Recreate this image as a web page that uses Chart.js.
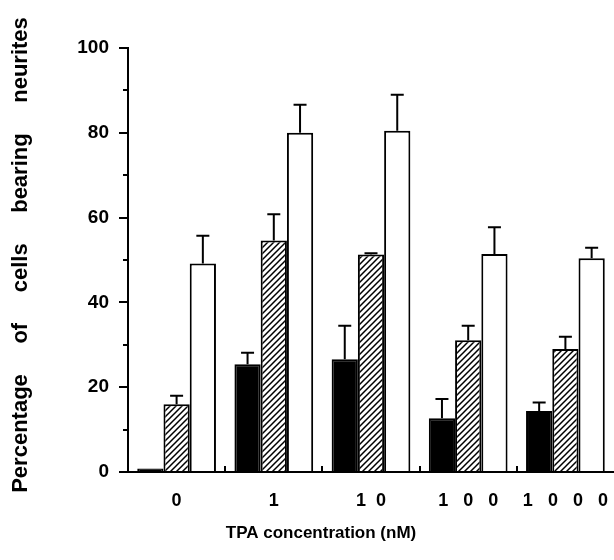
<!DOCTYPE html>
<html>
<head>
<meta charset="utf-8">
<script src="https://cdn.jsdelivr.net/npm/chart.js@4.4.0/dist/chart.umd.min.js"></script>
<style>
  html, body { margin: 0; padding: 0; background: #fff; }
  #wrap { width: 614px; height: 560px; }
</style>
</head>
<body>
<div id="wrap"><canvas id="barChart" width="614" height="560"></canvas></div>
<script>
const categories = ['0', '1', '1  0', '1   0   0', '1   0   0   0'];
const blackValues = [0.8, 25.4, 26.6, 12.7, 14.4];
const blackErrors = [0, 2.7, 7.9, 4.5, 2.0];
const hatchedValues = [16.0, 54.6, 51.3, 31.1, 29.0];
const hatchedErrors = [2.0, 6.2, 0.3, 3.4, 2.9];
const whiteValues = [49.2, 80.0, 80.5, 51.4, 50.4];
const whiteErrors = [6.5, 6.6, 8.5, 6.3, 2.5];
const yMin = 0, yMax = 100, yStep = 20;
const yMinorTicks = [10, 30, 50, 70, 90];
const xTitle = 'TPA concentration (nM)';
const yTitle = 'Percentage     of     cells     bearing     neurites';

const FONT = '"Liberation Sans", Arial, Helvetica, sans-serif';

function makeHatch() {
    const c = document.createElement('canvas');
    c.width = 6; c.height = 6;
    const g = c.getContext('2d');
    g.fillStyle = '#fff';
    g.fillRect(0, 0, 6, 6);
    g.strokeStyle = '#000';
    g.lineWidth = 1.5;
    g.beginPath();
    g.moveTo(0, 6); g.lineTo(6, 0);
    g.moveTo(-1, 1); g.lineTo(1, -1);
    g.moveTo(5, 7); g.lineTo(7, 5);
    g.stroke();
    return g.createPattern(c, 'repeat');
}

// upward-only error bars with a small cap
const errorBars = {
    id: 'errorBars',
    afterDatasetsDraw(chart) {
        const ctx = chart.ctx;
        const y = chart.scales.y;
        ctx.save();
        ctx.strokeStyle = '#000';
        ctx.lineWidth = 2;
        chart.data.datasets.forEach((ds, i) => {
            chart.getDatasetMeta(i).data.forEach((bar, j) => {
                const err = ds.errors[j];
                if (!err) return;
                const top = y.getPixelForValue(ds.data[j] + err);
                ctx.beginPath();
                ctx.moveTo(bar.x, bar.y);
                ctx.lineTo(bar.x, top);
                ctx.moveTo(bar.x - 6.5, top);
                ctx.lineTo(bar.x + 6.5, top);
                ctx.stroke();
            });
        });
        ctx.restore();
    }
};

// short tick marks: minor ones on y, inward ones between groups on x
const extraTicks = {
    id: 'extraTicks',
    afterDraw(chart) {
        const ctx = chart.ctx;
        const x = chart.scales.x, y = chart.scales.y;
        const area = chart.chartArea;
        ctx.save();
        ctx.strokeStyle = '#000';
        ctx.lineWidth = 2;
        ctx.beginPath();
        yMinorTicks.forEach(v => {
            const py = Math.round(y.getPixelForValue(v));
            ctx.moveTo(area.left - 5, py);
            ctx.lineTo(area.left, py);
        });
        for (let i = 1; i < categories.length; i++) {
            const px = Math.round((x.getPixelForValue(i - 1) + x.getPixelForValue(i)) / 2);
            ctx.moveTo(px, area.bottom);
            ctx.lineTo(px, area.bottom - 6);
        }
        ctx.stroke();
        ctx.restore();
    }
};

const axisTitles = {
    id: 'axisTitles',
    afterDraw(chart) {
        const ctx = chart.ctx;
        ctx.save();
        ctx.fillStyle = '#000';
        ctx.textAlign = 'center';
        ctx.textBaseline = 'middle';
        ctx.font = 'bold 17px ' + FONT;
        ctx.fillText(xTitle, 321, 533);
        ctx.translate(21, 255);
        ctx.rotate(-Math.PI / 2);
        ctx.font = 'bold 22px ' + FONT;
        ctx.fillText(yTitle, 0, 0);
        ctx.restore();
    }
};

const ctx = document.getElementById('barChart').getContext('2d');
new Chart(ctx, {
    type: 'bar',
    data: {
        labels: categories,
        datasets: [
            { data: blackValues, errors: blackErrors, backgroundColor: '#000', borderColor: '#000', borderWidth: 2 },
            { data: hatchedValues, errors: hatchedErrors, backgroundColor: makeHatch(), borderColor: '#000', borderWidth: 2 },
            { data: whiteValues, errors: whiteErrors, backgroundColor: '#fff', borderColor: '#000', borderWidth: 2 }
        ]
    },
    options: {
        responsive: false,
        animation: false,
        devicePixelRatio: 1,
        barPercentage: 1,
        categoryPercentage: 0.81,
        layout: { padding: { top: 48, right: 0, left: 0, bottom: 0 } },
        plugins: { legend: { display: false }, tooltip: { enabled: false } },
        scales: {
            x: {
                grid: { display: false },
                border: { display: true, color: '#000', width: 2 },
                ticks: { color: '#000', font: { family: FONT, size: 18, weight: 'bold' }, padding: 10, maxRotation: 0, autoSkip: false },
                afterFit: s => { s.height = 88; s.paddingLeft = 0; s.paddingRight = 0; }
            },
            y: {
                min: yMin,
                max: yMax,
                grid: { drawOnChartArea: false, drawTicks: true, tickLength: 9, color: '#000', lineWidth: 2 },
                border: { display: true, color: '#000', width: 2 },
                ticks: {
                    stepSize: yStep,
                    color: '#000',
                    padding: 10,
                    font: { family: FONT, size: 19, weight: 'bold' }
                },
                afterFit: s => { s.width = 128; }
            }
        }
    },
    plugins: [errorBars, extraTicks, axisTitles]
});
</script>
</body>
</html>
